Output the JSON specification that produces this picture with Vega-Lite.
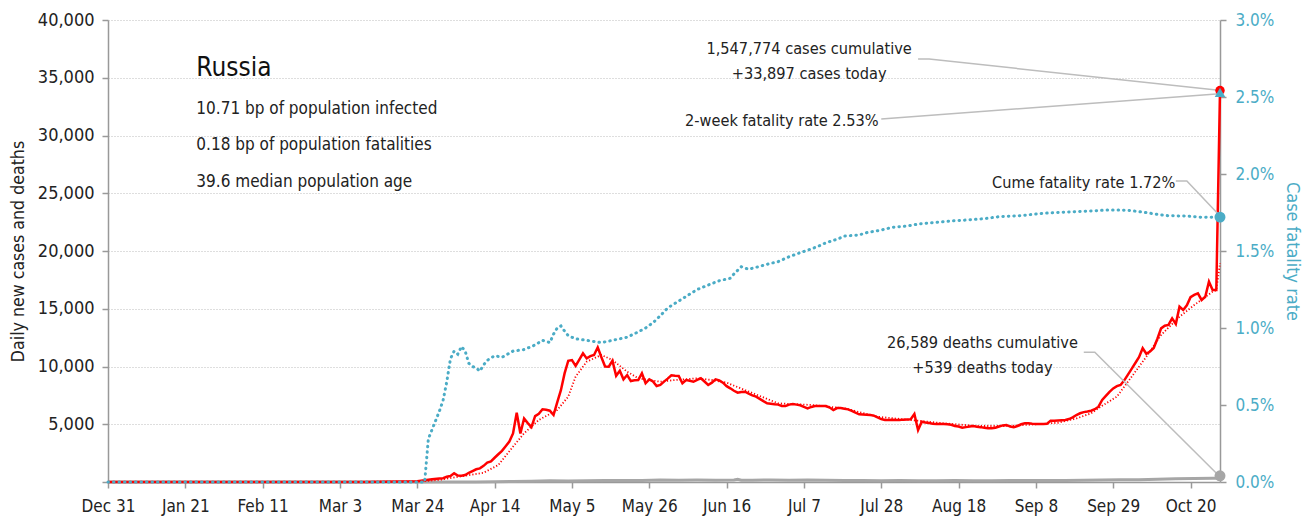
{
"$schema":"https://vega.github.io/schema/vega-lite/v6.json",
"width":1112,"height":462,
"autosize":{"type":"none"},
"padding":{"left":108,"top":20,"right":95,"bottom":38},
"background":"#ffffff",
"config":{
 "font":"DejaVu Sans Condensed, sans-serif",
 "view":{"stroke":null},
 "axis":{"labelFontSize":18,"titleFontSize":17.6,"titleFontWeight":"normal","labelColor":"#222222","titleColor":"#222222","domainColor":"#999999","tickColor":"#999999","domainWidth":1.5,"tickWidth":1.5,"tickSize":6,"grid":false,"labelOverlap":false}
},
"datasets":{
"cases":[
{"d":"2019-12-31","v":0},{"d":"2020-01-31","v":0},{"d":"2020-02-29","v":0},{"d":"2020-03-10","v":3},{"d":"2020-03-15","v":20},{"d":"2020-03-20","v":50},{"d":"2020-03-24","v":60},{"d":"2020-03-26","v":150},{"d":"2020-03-28","v":230},{"d":"2020-03-30","v":300},{"d":"2020-03-31","v":330},
{"d":"2020-04-01","v":450},{"d":"2020-04-02","v":520},{"d":"2020-04-03","v":750},{"d":"2020-04-04","v":560},{"d":"2020-04-05","v":540},{"d":"2020-04-06","v":610},{"d":"2020-04-07","v":800},{"d":"2020-04-08","v":950},{"d":"2020-04-09","v":1100},{"d":"2020-04-10","v":1180},{"d":"2020-04-11","v":1400},{"d":"2020-04-12","v":1680},{"d":"2020-04-13","v":1780},{"d":"2020-04-14","v":2100},{"d":"2020-04-15","v":2400},{"d":"2020-04-16","v":2700},{"d":"2020-04-17","v":3100},{"d":"2020-04-18","v":3500},{"d":"2020-04-19","v":4200},{"d":"2020-04-20","v":6000},{"d":"2020-04-21","v":4200},{"d":"2020-04-22","v":5500},{"d":"2020-04-23","v":5100},{"d":"2020-04-24","v":4750},{"d":"2020-04-25","v":5700},{"d":"2020-04-26","v":5900},{"d":"2020-04-27","v":6300},{"d":"2020-04-28","v":6250},{"d":"2020-04-29","v":6170},{"d":"2020-04-30","v":5800},
{"d":"2020-05-01","v":6900},{"d":"2020-05-02","v":7950},{"d":"2020-05-03","v":9400},{"d":"2020-05-04","v":10500},{"d":"2020-05-05","v":10560},{"d":"2020-05-06","v":10050},{"d":"2020-05-07","v":10600},{"d":"2020-05-08","v":11140},{"d":"2020-05-09","v":10700},{"d":"2020-05-10","v":10900},{"d":"2020-05-11","v":11000},{"d":"2020-05-12","v":11660},{"d":"2020-05-13","v":10800},{"d":"2020-05-14","v":10000},{"d":"2020-05-15","v":9980},{"d":"2020-05-16","v":10500},{"d":"2020-05-17","v":9200},{"d":"2020-05-18","v":9640},{"d":"2020-05-19","v":8890},{"d":"2020-05-20","v":9260},{"d":"2020-05-21","v":8740},{"d":"2020-05-22","v":8800},{"d":"2020-05-23","v":8830},{"d":"2020-05-24","v":9410},{"d":"2020-05-25","v":8550},{"d":"2020-05-26","v":8890},{"d":"2020-05-27","v":8700},{"d":"2020-05-28","v":8310},{"d":"2020-05-29","v":8400},{"d":"2020-05-30","v":8690},{"d":"2020-05-31","v":8950},
{"d":"2020-06-01","v":9240},{"d":"2020-06-02","v":9200},{"d":"2020-06-03","v":9180},{"d":"2020-06-04","v":8545},{"d":"2020-06-05","v":8830},{"d":"2020-06-06","v":8770},{"d":"2020-06-07","v":8680},{"d":"2020-06-08","v":8850},{"d":"2020-06-09","v":8980},{"d":"2020-06-10","v":8700},{"d":"2020-06-11","v":8400},{"d":"2020-06-12","v":8600},{"d":"2020-06-13","v":8890},{"d":"2020-06-14","v":8800},{"d":"2020-06-15","v":8600},{"d":"2020-06-16","v":8300},{"d":"2020-06-17","v":8110},{"d":"2020-06-18","v":7900},{"d":"2020-06-19","v":7730},{"d":"2020-06-20","v":7800},{"d":"2020-06-21","v":7820},{"d":"2020-06-22","v":7650},{"d":"2020-06-23","v":7500},{"d":"2020-06-24","v":7390},{"d":"2020-06-25","v":7200},{"d":"2020-06-26","v":7000},{"d":"2020-06-27","v":6810},{"d":"2020-06-28","v":6780},{"d":"2020-06-29","v":6730},{"d":"2020-06-30","v":6700},
{"d":"2020-07-01","v":6580},{"d":"2020-07-02","v":6580},{"d":"2020-07-03","v":6700},{"d":"2020-07-04","v":6750},{"d":"2020-07-05","v":6700},{"d":"2020-07-06","v":6640},{"d":"2020-07-07","v":6500},{"d":"2020-07-08","v":6380},{"d":"2020-07-09","v":6500},{"d":"2020-07-10","v":6580},{"d":"2020-07-11","v":6580},{"d":"2020-07-12","v":6580},{"d":"2020-07-13","v":6580},{"d":"2020-07-14","v":6450},{"d":"2020-07-15","v":6230},{"d":"2020-07-16","v":6400},{"d":"2020-07-17","v":6400},{"d":"2020-07-18","v":6350},{"d":"2020-07-19","v":6290},{"d":"2020-07-20","v":6150},{"d":"2020-07-21","v":6000},{"d":"2020-07-22","v":5860},{"d":"2020-07-23","v":5850},{"d":"2020-07-24","v":5830},{"d":"2020-07-25","v":5800},{"d":"2020-07-26","v":5750},{"d":"2020-07-27","v":5600},{"d":"2020-07-28","v":5450},{"d":"2020-07-29","v":5370},{"d":"2020-07-30","v":5370},{"d":"2020-07-31","v":5380},
{"d":"2020-08-01","v":5370},{"d":"2020-08-02","v":5370},{"d":"2020-08-03","v":5400},{"d":"2020-08-04","v":5420},{"d":"2020-08-05","v":5430},{"d":"2020-08-06","v":5880},{"d":"2020-08-07","v":4500},{"d":"2020-08-08","v":5220},{"d":"2020-08-09","v":5150},{"d":"2020-08-10","v":5100},{"d":"2020-08-11","v":5050},{"d":"2020-08-12","v":5020},{"d":"2020-08-13","v":5030},{"d":"2020-08-14","v":5020},{"d":"2020-08-15","v":5000},{"d":"2020-08-16","v":4950},{"d":"2020-08-17","v":4850},{"d":"2020-08-18","v":4800},{"d":"2020-08-19","v":4700},{"d":"2020-08-20","v":4750},{"d":"2020-08-21","v":4800},{"d":"2020-08-22","v":4850},{"d":"2020-08-23","v":4790},{"d":"2020-08-24","v":4750},{"d":"2020-08-25","v":4700},{"d":"2020-08-26","v":4650},{"d":"2020-08-27","v":4650},{"d":"2020-08-28","v":4700},{"d":"2020-08-29","v":4800},{"d":"2020-08-30","v":4900},{"d":"2020-08-31","v":4940},
{"d":"2020-09-01","v":4800},{"d":"2020-09-02","v":4740},{"d":"2020-09-03","v":4850},{"d":"2020-09-04","v":5000},{"d":"2020-09-05","v":5080},{"d":"2020-09-06","v":5080},{"d":"2020-09-07","v":5050},{"d":"2020-09-08","v":5030},{"d":"2020-09-09","v":5020},{"d":"2020-09-10","v":5020},{"d":"2020-09-11","v":5050},{"d":"2020-09-12","v":5300},{"d":"2020-09-13","v":5310},{"d":"2020-09-14","v":5330},{"d":"2020-09-15","v":5350},{"d":"2020-09-16","v":5370},{"d":"2020-09-17","v":5450},{"d":"2020-09-18","v":5600},{"d":"2020-09-19","v":5800},{"d":"2020-09-20","v":5950},{"d":"2020-09-21","v":6050},{"d":"2020-09-22","v":6100},{"d":"2020-09-23","v":6170},{"d":"2020-09-24","v":6300},{"d":"2020-09-25","v":6520},{"d":"2020-09-26","v":7100},{"d":"2020-09-27","v":7450},{"d":"2020-09-28","v":7800},{"d":"2020-09-29","v":8100},{"d":"2020-09-30","v":8300},
{"d":"2020-10-01","v":8400},{"d":"2020-10-02","v":8800},{"d":"2020-10-03","v":9300},{"d":"2020-10-04","v":9800},{"d":"2020-10-05","v":10300},{"d":"2020-10-06","v":10800},{"d":"2020-10-07","v":11580},{"d":"2020-10-08","v":11100},{"d":"2020-10-09","v":11300},{"d":"2020-10-10","v":11600},{"d":"2020-10-11","v":12400},{"d":"2020-10-12","v":13300},{"d":"2020-10-13","v":13530},{"d":"2020-10-14","v":13600},{"d":"2020-10-15","v":14170},{"d":"2020-10-16","v":13680},{"d":"2020-10-17","v":15180},{"d":"2020-10-18","v":14890},{"d":"2020-10-19","v":15300},{"d":"2020-10-20","v":16000},{"d":"2020-10-21","v":16200},{"d":"2020-10-22","v":16340},{"d":"2020-10-23","v":15760},{"d":"2020-10-24","v":16040},{"d":"2020-10-25","v":17340},{"d":"2020-10-26","v":16620},{"d":"2020-10-27","v":16620},{"d":"2020-10-28","v":33897}
],
"avg":[
{"d":"2019-12-31","v":0},{"d":"2020-02-29","v":0},{"d":"2020-03-24","v":40},{"d":"2020-03-30","v":180},{"d":"2020-04-04","v":450},{"d":"2020-04-09","v":700},{"d":"2020-04-11","v":800},{"d":"2020-04-15","v":1470},{"d":"2020-04-19","v":3060},{"d":"2020-04-22","v":4220},{"d":"2020-04-26","v":5370},{"d":"2020-05-01","v":6230},{"d":"2020-05-04","v":7390},{"d":"2020-05-06","v":9120},{"d":"2020-05-09","v":10420},{"d":"2020-05-13","v":11000},{"d":"2020-05-16","v":10560},{"d":"2020-05-20","v":9550},{"d":"2020-05-23","v":8980},{"d":"2020-05-29","v":8680},{"d":"2020-06-02","v":8830},{"d":"2020-06-08","v":8980},{"d":"2020-06-12","v":8830},{"d":"2020-06-16","v":8600},{"d":"2020-06-21","v":7960},{"d":"2020-06-30","v":6810},{"d":"2020-07-09","v":6670},{"d":"2020-07-18","v":6380},{"d":"2020-07-27","v":5650},{"d":"2020-08-05","v":5370},{"d":"2020-08-14","v":5080},{"d":"2020-08-23","v":4850},{"d":"2020-09-01","v":4850},{"d":"2020-09-08","v":5000},{"d":"2020-09-14","v":5130},{"d":"2020-09-19","v":5500},{"d":"2020-09-23","v":5950},{"d":"2020-09-26","v":6600},{"d":"2020-09-30","v":7390},{"d":"2020-10-03","v":8680},{"d":"2020-10-08","v":10850},{"d":"2020-10-12","v":12730},{"d":"2020-10-17","v":14310},{"d":"2020-10-21","v":15320},{"d":"2020-10-26","v":16480},{"d":"2020-10-27","v":16600},{"d":"2020-10-28","v":18940}
],
"deaths":[
{"d":"2019-12-31","v":0},{"d":"2020-03-24","v":1},{"d":"2020-03-31","v":5},{"d":"2020-04-09","v":10},{"d":"2020-04-14","v":20},{"d":"2020-04-19","v":50},{"d":"2020-04-24","v":60},{"d":"2020-04-29","v":100},{"d":"2020-05-04","v":90},{"d":"2020-05-09","v":100},{"d":"2020-05-14","v":120},{"d":"2020-05-19","v":130},{"d":"2020-05-24","v":140},{"d":"2020-05-29","v":170},{"d":"2020-06-03","v":160},{"d":"2020-06-08","v":170},{"d":"2020-06-13","v":150},{"d":"2020-06-18","v":180},{"d":"2020-06-19","v":240},{"d":"2020-06-20","v":150},{"d":"2020-06-23","v":160},{"d":"2020-06-28","v":170},{"d":"2020-07-03","v":150},{"d":"2020-07-08","v":170},{"d":"2020-07-13","v":150},{"d":"2020-07-18","v":130},{"d":"2020-07-23","v":140},{"d":"2020-07-28","v":110},{"d":"2020-08-02","v":120},{"d":"2020-08-07","v":110},{"d":"2020-08-12","v":100},{"d":"2020-08-17","v":120},{"d":"2020-08-22","v":110},{"d":"2020-08-27","v":100},{"d":"2020-09-01","v":120},{"d":"2020-09-06","v":130},{"d":"2020-09-11","v":140},{"d":"2020-09-16","v":140},{"d":"2020-09-21","v":160},{"d":"2020-09-26","v":170},{"d":"2020-10-01","v":190},{"d":"2020-10-06","v":200},{"d":"2020-10-11","v":230},{"d":"2020-10-16","v":280},{"d":"2020-10-21","v":300},{"d":"2020-10-26","v":320},{"d":"2020-10-27","v":320},{"d":"2020-10-28","v":539}
],
"cfr":[
{"d":"2019-12-31","r":0},{"d":"2020-01-31","r":0},{"d":"2020-02-29","r":0},{"d":"2020-03-26","r":0},{"d":"2020-03-27","r":0.28},{"d":"2020-03-28","r":0.34},{"d":"2020-03-29","r":0.4},{"d":"2020-03-30","r":0.46},{"d":"2020-03-31","r":0.53},{"d":"2020-04-01","r":0.65},{"d":"2020-04-02","r":0.8},{"d":"2020-04-03","r":0.85},{"d":"2020-04-04","r":0.83},{"d":"2020-04-05","r":0.88},{"d":"2020-04-06","r":0.85},{"d":"2020-04-07","r":0.77},{"d":"2020-04-08","r":0.75},{"d":"2020-04-09","r":0.74},{"d":"2020-04-10","r":0.72},{"d":"2020-04-11","r":0.76},{"d":"2020-04-12","r":0.79},{"d":"2020-04-14","r":0.82},{"d":"2020-04-16","r":0.81},{"d":"2020-04-19","r":0.85},{"d":"2020-04-22","r":0.86},{"d":"2020-04-25","r":0.89},{"d":"2020-04-27","r":0.92},{"d":"2020-04-29","r":0.905},{"d":"2020-04-30","r":0.96},{"d":"2020-05-01","r":1.0},{"d":"2020-05-02","r":1.013},{"d":"2020-05-03","r":0.98},{"d":"2020-05-04","r":0.95},{"d":"2020-05-06","r":0.93},{"d":"2020-05-09","r":0.92},{"d":"2020-05-13","r":0.905},{"d":"2020-05-16","r":0.92},{"d":"2020-05-20","r":0.94},{"d":"2020-05-23","r":0.975},{"d":"2020-05-25","r":1.0},{"d":"2020-05-27","r":1.034},{"d":"2020-05-29","r":1.08},{"d":"2020-05-31","r":1.13},{"d":"2020-06-02","r":1.16},{"d":"2020-06-04","r":1.19},{"d":"2020-06-06","r":1.22},{"d":"2020-06-08","r":1.25},{"d":"2020-06-11","r":1.279},{"d":"2020-06-14","r":1.307},{"d":"2020-06-17","r":1.323},{"d":"2020-06-18","r":1.351},{"d":"2020-06-20","r":1.398},{"d":"2020-06-22","r":1.381},{"d":"2020-06-24","r":1.394},{"d":"2020-06-28","r":1.42},{"d":"2020-06-30","r":1.431},{"d":"2020-07-03","r":1.463},{"d":"2020-07-06","r":1.489},{"d":"2020-07-09","r":1.513},{"d":"2020-07-11","r":1.532},{"d":"2020-07-13","r":1.554},{"d":"2020-07-16","r":1.576},{"d":"2020-07-18","r":1.597},{"d":"2020-07-22","r":1.604},{"d":"2020-07-24","r":1.619},{"d":"2020-07-28","r":1.636},{"d":"2020-07-31","r":1.654},{"d":"2020-08-04","r":1.662},{"d":"2020-08-07","r":1.675},{"d":"2020-08-11","r":1.684},{"d":"2020-08-16","r":1.695},{"d":"2020-08-20","r":1.701},{"d":"2020-08-25","r":1.71},{"d":"2020-08-29","r":1.723},{"d":"2020-09-04","r":1.73},{"d":"2020-09-10","r":1.745},{"d":"2020-09-15","r":1.751},{"d":"2020-09-20","r":1.757},{"d":"2020-09-24","r":1.761},{"d":"2020-09-27","r":1.766},{"d":"2020-10-01","r":1.766},{"d":"2020-10-04","r":1.762},{"d":"2020-10-08","r":1.749},{"d":"2020-10-11","r":1.738},{"d":"2020-10-14","r":1.729},{"d":"2020-10-19","r":1.727},{"d":"2020-10-23","r":1.719},{"d":"2020-10-28","r":1.72}
],
"leaders":[
{"g":"a","d":"2020-08-07","v":36623},{"g":"a","d":"2020-08-10","v":36623},{"g":"a","d":"2020-10-27","v":33939},
{"g":"b","d":"2020-07-28","v":31429},{"g":"b","d":"2020-10-27","v":33593},
{"g":"c","d":"2020-10-16","v":26061},{"g":"c","d":"2020-10-19","v":26061},{"g":"c","d":"2020-10-27T12:00:00Z","v":23203},
{"g":"d","d":"2020-09-21","v":11229},{"g":"d","d":"2020-09-24","v":11229},{"g":"d","d":"2020-10-27T12:00:00Z","v":606}
],
"title":[{"d":"2020-01-24","v":35150,"t":"Russia"}],
"info":[
{"d":"2020-01-24","v":31860,"t":"10.71 bp of population infected"},
{"d":"2020-01-24","v":28745,"t":"0.18 bp of population fatalities"},
{"d":"2020-01-24","v":25567,"t":"39.6 median population age"}
],
"notes":[
{"d":"2020-07-08T10:00:00Z","v":37056,"t":"1,547,774 cases cumulative"},
{"d":"2020-07-08T10:00:00Z","v":34892,"t":"+33,897 cases today"},
{"d":"2020-07-01","v":30822,"t":"2-week fatality rate 2.53%"},
{"d":"2020-09-21","v":25455,"t":"Cume fatality rate 1.72%"},
{"d":"2020-08-24T12:00:00Z","v":11602,"t":"26,589 deaths cumulative"},
{"d":"2020-08-24T12:00:00Z","v":9437,"t":"+539 deaths today"}
],
"redpt":[{"d":"2020-10-28","v":33897}],
"graypt":[{"d":"2020-10-28","v":539}],
"bluept":[{"d":"2020-10-28","r":1.72}],
"tri":[{"d":"2020-10-28","r":2.53}]
},
"encoding":{
 "x":{"field":"d","type":"temporal",
  "scale":{"type":"utc","domain":[{"year":2019,"month":12,"date":31,"utc":true},{"year":2020,"month":10,"date":28,"utc":true}]},
  "axis":{"title":null,"format":"%b %-d","labelPadding":10,"labelFontSize":17,"labelFlush":false,
   "values":[{"year":2019,"month":12,"date":31,"utc":true},{"year":2020,"month":1,"date":21,"utc":true},{"year":2020,"month":2,"date":11,"utc":true},{"year":2020,"month":3,"date":3,"utc":true},{"year":2020,"month":3,"date":24,"utc":true},{"year":2020,"month":4,"date":14,"utc":true},{"year":2020,"month":5,"date":5,"utc":true},{"year":2020,"month":5,"date":26,"utc":true},{"year":2020,"month":6,"date":16,"utc":true},{"year":2020,"month":7,"date":7,"utc":true},{"year":2020,"month":7,"date":28,"utc":true},{"year":2020,"month":8,"date":18,"utc":true},{"year":2020,"month":9,"date":8,"utc":true},{"year":2020,"month":9,"date":29,"utc":true},{"year":2020,"month":10,"date":20,"utc":true}]}}
},
"layer":[
 {"encoding":{"y":{"field":"v","type":"quantitative","scale":{"domain":[0,40000],"nice":false,"zero":true},
   "axis":{"orient":"left","grid":true,"gridColor":"#bdbdbd","gridDash":[1,2],"gridWidth":1,"values":[0,5000,10000,15000,20000,25000,30000,35000,40000],"labelExpr":"datum.value === 0 ? '' : format(datum.value, ',')","labelPadding":8,"title":"Daily new cases and deaths","titlePadding":10}}},
  "layer":[
   {"data":{"name":"deaths"},"mark":{"type":"line","color":"#a6a6a6","strokeWidth":3}},
   {"data":{"name":"avg"},"mark":{"type":"line","color":"#ff0000","strokeWidth":1.8,"strokeDash":[1.2,2]}},
   {"data":{"name":"cases"},"mark":{"type":"line","color":"#ff0000","strokeWidth":2.5}},
   {"data":{"name":"leaders"},"mark":{"type":"line","color":"#bdbdbd","strokeWidth":1.5},"encoding":{"detail":{"field":"g"}}},
   {"data":{"name":"title"},"mark":{"type":"text","align":"left","baseline":"alphabetic","fontSize":26,"color":"#111111"},"encoding":{"text":{"field":"t"}}},
   {"data":{"name":"info"},"mark":{"type":"text","align":"left","baseline":"alphabetic","fontSize":17,"color":"#222222"},"encoding":{"text":{"field":"t"}}},
   {"data":{"name":"notes"},"mark":{"type":"text","align":"center","baseline":"alphabetic","fontSize":16.2,"color":"#222222"},"encoding":{"text":{"field":"t"}}},
   {"data":{"name":"redpt"},"mark":{"type":"circle","color":"#ff0000","size":90,"opacity":1}},
   {"data":{"name":"graypt"},"mark":{"type":"circle","color":"#a6a6a6","size":120,"opacity":1}}
  ]},
 {"encoding":{"y":{"field":"r","type":"quantitative","scale":{"domain":[0,3],"nice":false},
   "axis":{"orient":"right","values":[0,0.5,1,1.5,2,2.5,3],"labelExpr":"format(datum.value, '.1f') + '%'","labelFontSize":17,"labelColor":"#4bacc6","labelPadding":9,"title":"Case fatality rate","titleFontSize":17.9,"titleColor":"#4bacc6","titlePadding":9}}},
  "layer":[
   {"data":{"name":"cfr"},"mark":{"type":"line","color":"#4bacc6","strokeWidth":3,"strokeDash":[0.5,5],"strokeCap":"round"}},
   {"data":{"name":"bluept"},"mark":{"type":"circle","color":"#4bacc6","size":120,"opacity":1}},
   {"data":{"name":"tri"},"mark":{"type":"point","shape":"triangle-up","filled":true,"color":"#4bacc6","size":110,"opacity":1}}
  ]}
],
"resolve":{"scale":{"y":"independent"}}
}
